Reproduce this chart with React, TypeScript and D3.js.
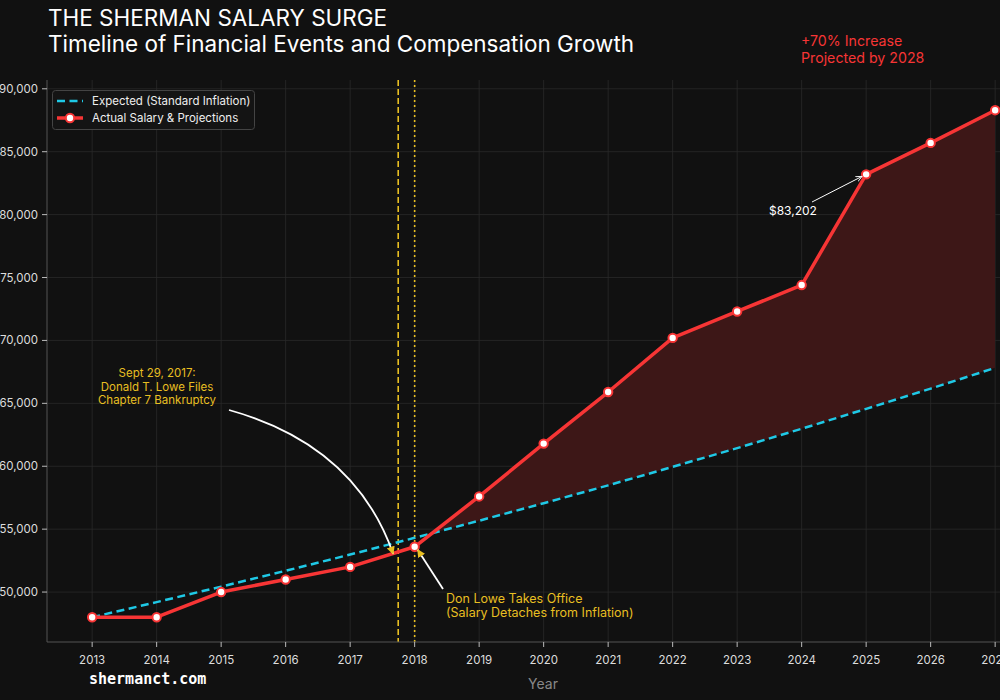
import React from 'react';
import * as d3 from 'd3';

// salary data
const years = [2013, 2014, 2015, 2016, 2017, 2018, 2019, 2020, 2021, 2022, 2023, 2024, 2025, 2026, 2027];
const actualSalary = [48000, 48000, 50000, 51000, 52000, 53600, 57600, 61800, 65900, 70200, 72300, 74400, 83202, 85700, 88300];
const expectedSalary = [48000, 49200, 50430, 51690, 52980, 54310, 55670, 57060, 58480, 59950, 61440, 62980, 64560, 66170, 67820];
const yTicks = [50000, 55000, 60000, 65000, 70000, 75000, 80000, 85000, 90000];
const bankruptcyDate = 2017.745; // Sept 29, 2017
const officeDate = 2018;
const labelYear = 2025;

const W = 1000;
const H = 700;
const margin = { top: 80, left: 47, bottom: 58 };

const gold = '#e8bf22';
const red = '#f73535';
const cyan = '#1fc9e6';
const font = 'Inter, "Open Sans", sans-serif';

export default function App() {
  const x = d3.scaleLinear().domain([2012.3, 2028.7]).range([margin.left, margin.left + 16.4 * 64.5]);
  const y = d3.scaleLinear().domain([46030, 90700]).range([H - margin.bottom, margin.top]);
  const plotBottom = H - margin.bottom;

  const rows = years.map((yr, i) => ({ yr, actual: actualSalary[i], expected: expectedSalary[i] }));
  const after = rows.filter((d) => d.yr >= officeDate);

  const actualLine = d3.line<any>().x((d) => x(d.yr)).y((d) => y(d.actual));
  const expectedLine = d3.line<any>().x((d) => x(d.yr)).y((d) => y(d.expected));
  // area under red line, clipped to the region above the blue line
  const underActual = d3.area<any>().x((d) => x(d.yr)).y0(plotBottom).y1((d) => y(d.actual));
  const aboveExpected = d3.area<any>().x((d) => x(d.yr)).y0(0).y1((d) => y(d.expected));

  const xb = x(bankruptcyDate);
  const xo = x(officeDate);
  const yb = y(52000 + (53600 - 52000) * (bankruptcyDate - 2017));
  const yo = y(actualSalary[years.indexOf(officeDate)]);
  const xl = x(labelYear);
  const yl = y(actualSalary[years.indexOf(labelYear)]);

  return (
    <div style={{ position: 'absolute', left: 0, top: 0 }}>
      <svg width={W} height={H} style={{ display: 'block', background: '#111111', fontFamily: font }}>
        <defs>
          <marker id="goldHead" viewBox="0 0 10 10" refX="9" refY="5" markerWidth="4.5" markerHeight="4.5" orient="auto">
            <path d="M0,0L10,5L0,10z" fill={gold} />
          </marker>
          <marker id="whiteHead" viewBox="0 0 10 10" refX="9" refY="5" markerWidth="7" markerHeight="7" orient="auto">
            <path d="M0,1L9,5L0,9" fill="none" stroke="#fff" strokeWidth="1.2" />
          </marker>
          <clipPath id="aboveBlue">
            <path d={aboveExpected(rows) || ''} />
          </clipPath>
        </defs>
        <rect width={W} height={H} fill="#111111" />

        {/* grid */}
        {years.map((yr) => (
          <line key={yr} x1={x(yr)} x2={x(yr)} y1={margin.top} y2={plotBottom} stroke="#2a2a2a" strokeWidth={0.8} />
        ))}
        {yTicks.map((t) => (
          <line key={t} x1={margin.left} x2={W} y1={y(t)} y2={y(t)} stroke="#2a2a2a" strokeWidth={0.8} />
        ))}

        {/* gap fill */}
        <path d={underActual(after) || ''} fill="#3d1717" clipPath="url(#aboveBlue)" />

        {/* event lines */}
        <line x1={xb} x2={xb} y1={margin.top} y2={plotBottom} stroke={gold} strokeWidth={1.6} strokeDasharray="6,3" />
        <line x1={xo} x2={xo} y1={margin.top} y2={plotBottom} stroke={gold} strokeWidth={1.6} strokeDasharray="2,3" />

        {/* series */}
        <path d={expectedLine(rows) || ''} fill="none" stroke={cyan} strokeWidth={2.5} strokeDasharray="8,4.5" />
        <path d={actualLine(rows) || ''} fill="none" stroke={red} strokeWidth={3.5} strokeLinejoin="round" />
        {rows.map((d) => (
          <circle key={d.yr} cx={x(d.yr)} cy={y(d.actual)} r={4.2} fill="#fff" stroke={red} strokeWidth={2} />
        ))}

        {/* axes */}
        <line x1={margin.left} x2={margin.left} y1={margin.top} y2={plotBottom} stroke="#555" strokeWidth={1} />
        <line x1={margin.left} x2={W} y1={plotBottom} y2={plotBottom} stroke="#555" strokeWidth={1} />
        {yTicks.map((t) => (
          <g key={t} transform={`translate(${margin.left},${y(t)})`}>
            <line x1={-5} x2={0} stroke="#bbb" />
            <text x={-9} dy="0.35em" textAnchor="end" fill="#ddd" fontSize={11.5}>
              {d3.format(',')(t)}
            </text>
          </g>
        ))}
        {years.map((yr) => (
          <g key={yr} transform={`translate(${x(yr)},${plotBottom})`}>
            <line y1={0} y2={5} stroke="#bbb" />
            <text y={22} textAnchor="middle" fill="#ddd" fontSize={11.5}>{yr}</text>
          </g>
        ))}
        <text x={543} y={689} textAnchor="middle" fill="#888" fontSize={14}>Year</text>

        {/* annotations */}
        <text textAnchor="middle" fill={gold} fontSize={11.5}>
          <tspan x={157} y={377}>Sept 29, 2017:</tspan>
          <tspan x={157} y={390.5}>Donald T. Lowe Files</tspan>
          <tspan x={157} y={404}>Chapter 7 Bankruptcy</tspan>
        </text>
        <path d={`M229,410Q355,445 ${xb - 5},${yb + 2}`} fill="none" stroke="#fff" strokeWidth={1.8} markerEnd="url(#goldHead)" />

        <text fill={gold} fontSize={12.5}>
          <tspan x={446} y={603}>Don Lowe Takes Office</tspan>
          <tspan x={446} y={617}>(Salary Detaches from Inflation)</tspan>
        </text>
        <path d={`M443,589L${xo + 3},${yo + 3}`} fill="none" stroke="#fff" strokeWidth={1.8} markerEnd="url(#goldHead)" />

        <text x={769} y={215} fill="#fff" fontSize={12}>$83,202</text>
        <path d={`M812,202L${xl - 4},${yl + 2}`} fill="none" stroke="#fff" strokeWidth={1} markerEnd="url(#whiteHead)" />

        <text fill={red} fontSize={14.2}>
          <tspan x={801} y={46}>+70% Increase</tspan>
          <tspan x={801} y={63}>Projected by 2028</tspan>
        </text>

        {/* legend */}
        <rect x={52.5} y={90.5} width={202} height={39} rx={3} fill="#141414" stroke="#444" />
        <line x1={57} x2={83} y1={101} y2={101} stroke={cyan} strokeWidth={2.5} strokeDasharray="8,4.5" />
        <text x={92} y={105} fill="#eee" fontSize={11.5}>Expected (Standard Inflation)</text>
        <line x1={57} x2={83} y1={118} y2={118} stroke={red} strokeWidth={3.5} />
        <circle cx={70} cy={118} r={4.2} fill="#fff" stroke={red} strokeWidth={2} />
        <text x={92} y={122} fill="#eee" fontSize={11.5}>Actual Salary &amp; Projections</text>

        {/* titles */}
        <text x={48} y={26} fill="#fff" fontSize={22.5}>THE SHERMAN SALARY SURGE</text>
        <text x={48} y={52} fill="#fff" fontSize={22.5}>Timeline of Financial Events and Compensation Growth</text>

        <text x={89} y={684} fill="#fff" fontSize={15} fontWeight="bold" fontFamily='"DejaVu Sans Mono", monospace'>shermanct.com</text>
      </svg>
    </div>
  );
}
